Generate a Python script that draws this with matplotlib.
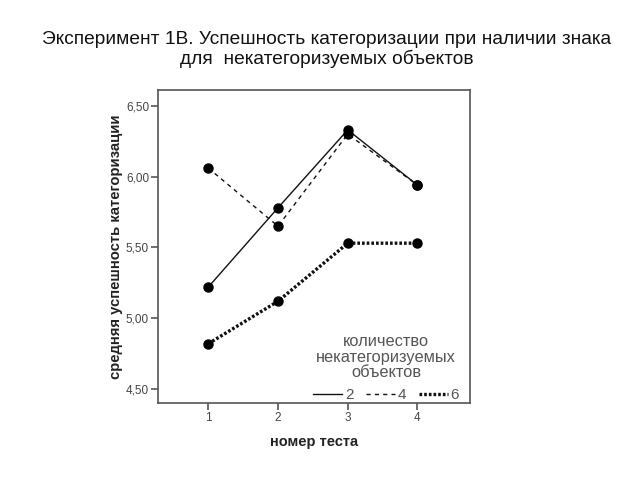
import matplotlib.pyplot as plt

plt.rcParams['font.family'] = ['Liberation Sans', 'DejaVu Sans']

tests = [1, 2, 3, 4]
series_labels = ['2', '4', '6']
vals_2 = [5.22, 5.78, 6.33, 5.94]
vals_4 = [6.06, 5.65, 6.30, 5.94]
vals_6 = [4.82, 5.12, 5.53, 5.53]
y_ticks = [4.5, 5.0, 5.5, 6.0, 6.5]
y_tick_labels = ['4,50', '5,00', '5,50', '6,00', '6,50']

fig = plt.figure(figsize=(6.4, 4.8), dpi=100)
ax = fig.add_axes([0.247, 0.160, 0.487, 0.652])

ax.plot(tests, vals_2, '-', color='#111111', lw=1.0, marker='o', ms=6.5,
        mfc='black', mec='black', label=series_labels[0])
ax.plot(tests, vals_4, color='#111111', lw=1.0, ls=(0, (3, 3)), marker='o', ms=6.5,
        mfc='black', mec='black', label=series_labels[1])
ax.plot(tests, vals_6, color='#111111', lw=2.4, ls=(0, (0.8, 0.6)), marker='o', ms=6.5,
        mfc='black', mec='black', label=series_labels[2])

ax.set_xlim(0.28, 4.75)
ax.set_ylim(4.40, 6.61)
ax.set_xticks(tests)
ax.set_xticklabels([str(t) for t in tests])
ax.set_yticks(y_ticks)
ax.set_yticklabels(y_tick_labels)
ax.tick_params(colors='#555555', labelsize=8.5, length=5, width=1.2,
               labelcolor='#444444', pad=1.5)
for sp in ax.spines.values():
    sp.set_color('#555555')
    sp.set_linewidth(1.2)

ax.set_xlabel('номер теста', fontsize=10.5, fontweight='bold', color='#222222', labelpad=8)
ax.set_ylabel('средняя успешность категоризации', fontsize=10.7, fontweight='bold',
              color='#222222', labelpad=2)

leg = ax.legend(title='количество\nнекатегоризуемых\nобъектов', ncol=3, frameon=False,
                loc='lower right', bbox_to_anchor=(1.01, -0.04), fontsize=11,
                title_fontsize=11.8, handlelength=1.9, handletextpad=0.2,
                columnspacing=0.8, markerscale=0)
leg.get_title().set_color('#555555')
leg.get_title().set_multialignment('center')
leg.get_title().set_linespacing(1.05)
for t in leg.get_texts():
    t.set_color('#555555')
for h in leg.legend_handles:
    h.set_marker('')

fig.text(0.51, 0.897, 'Эксперимент 1В. Успешность категоризации при наличии знака\n'
         'для  некатегоризуемых объектов', ha='center', va='center',
         fontsize=13.8, color='#111111', linespacing=1.1)

fig.savefig('out.png', dpi=100)
